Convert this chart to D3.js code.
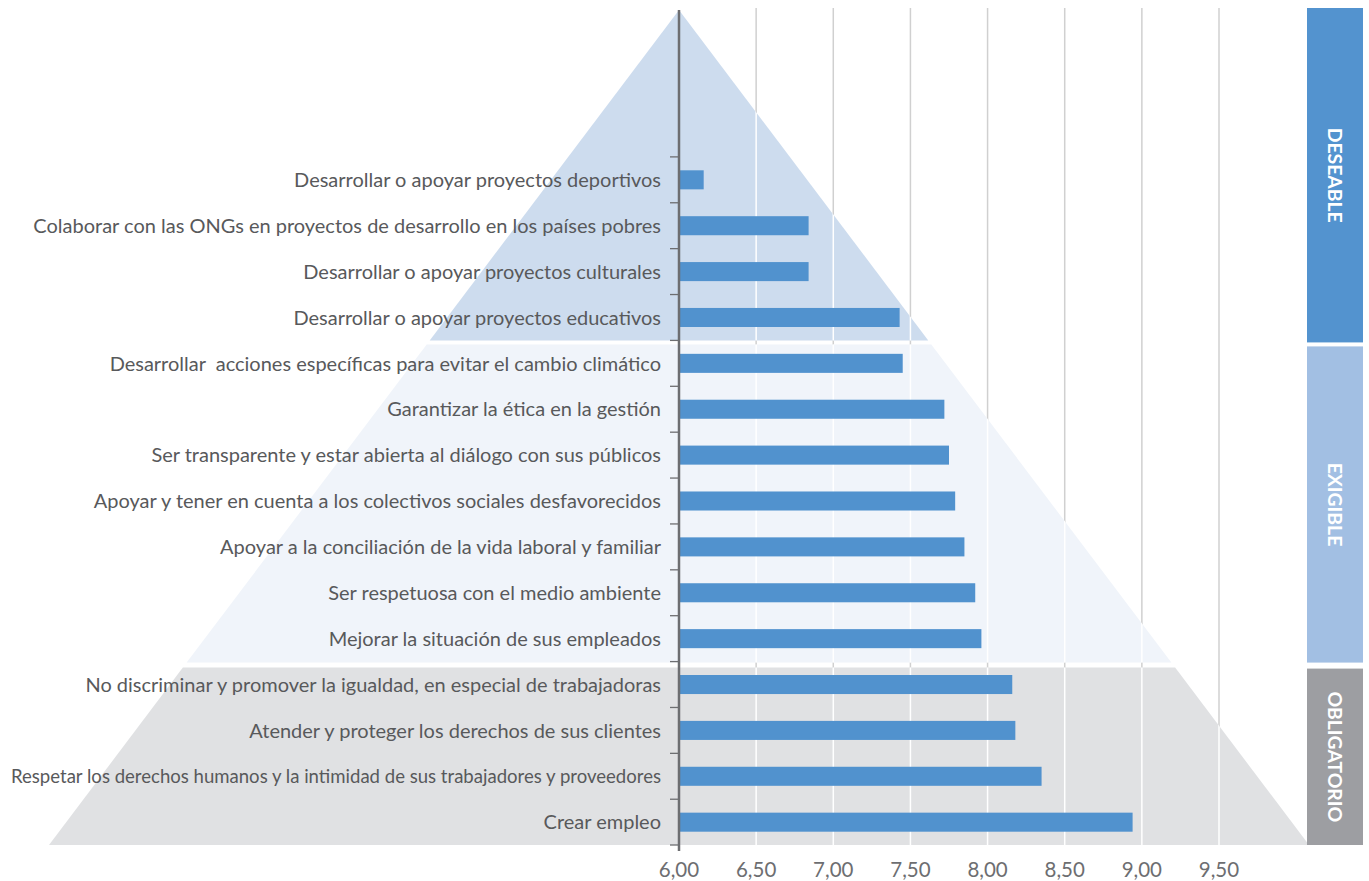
<!DOCTYPE html>
<html><head><meta charset="utf-8">
<script src="https://cdn.jsdelivr.net/npm/d3@7"></script>
<style>
body{margin:0;background:#fff;}
svg{display:block;font-family:Lato,"Open Sans",sans-serif;}
</style></head>
<body><svg id="c" width="1369" height="881"></svg>
<script>
const categories = [
 "Desarrollar o apoyar proyectos deportivos",
 "Colaborar con las ONGs en proyectos de desarrollo en los países pobres",
 "Desarrollar o apoyar proyectos culturales",
 "Desarrollar o apoyar proyectos educativos",
 "Desarrollar  acciones específicas para evitar el cambio climático",
 "Garantizar la ética en la gestión",
 "Ser transparente y estar abierta al diálogo con sus públicos",
 "Apoyar y tener en cuenta a los colectivos sociales desfavorecidos",
 "Apoyar a la conciliación de la vida laboral y familiar",
 "Ser respetuosa con el medio ambiente",
 "Mejorar la situación de sus empleados",
 "No discriminar y promover la igualdad, en especial de trabajadoras",
 "Atender y proteger los derechos de sus clientes",
 "Respetar los derechos humanos y la intimidad de sus trabajadores y proveedores",
 "Crear empleo"
];
const values = [6.16, 6.84, 6.84, 7.43, 7.45, 7.72, 7.75, 7.79, 7.85, 7.92, 7.96, 8.16, 8.18, 8.35, 8.94];
const xTicks = [6.0, 6.5, 7.0, 7.5, 8.0, 8.5, 9.0, 9.5];
const levels = ["DESEABLE", "EXIGIBLE", "OBLIGATORIO"];

const svg = d3.select("#c");
const x = d3.scaleLinear().domain([6, 9.5]).range([679, 1219]);
const y = d3.scaleBand().domain(categories).range([157, 845]).paddingInner(0.585).paddingOuter(0.29);
const gTop = 8, gBottom = 845, apexY = 10;
const apexX = x(6), baseL = 49, baseR = 2 * x(6) - 49;

// gray gridlines
svg.append("g").selectAll("line").data(xTicks.slice(1)).join("line")
  .attr("x1", d => x(d)).attr("x2", d => x(d)).attr("y1", gTop).attr("y2", gBottom)
  .attr("stroke", "#d0d0d0").attr("stroke-width", 1.5);

// pyramid bands
const step = y.step();
const bnd = i => y(categories[i]) - (step - y.bandwidth()) / 2;
const edgeL = yy => apexX - (apexX - baseL) * (yy - apexY) / (gBottom - apexY);
const edgeR = yy => apexX + (baseR - apexX) * (yy - apexY) / (gBottom - apexY);
const bands = [
  {y0: apexY, y1: bnd(4), fill: "#cddcee"},
  {y0: bnd(4) + 4, y1: bnd(11) + 1, fill: "#f0f4fa"},
  {y0: bnd(11) + 6, y1: gBottom, fill: "#e0e1e3"}
];
const poly = b => [[edgeL(b.y0), b.y0], [edgeR(b.y0), b.y0], [edgeR(b.y1), b.y1], [edgeL(b.y1), b.y1]];
svg.append("defs").append("clipPath").attr("id", "tri")
  .selectAll("polygon").data(bands).join("polygon").attr("points", b => poly(b).join(" "));
svg.append("g").selectAll("polygon").data(bands).join("polygon")
  .attr("points", b => poly(b).join(" ")).attr("fill", b => b.fill);

// white gridlines inside pyramid
svg.append("g").attr("clip-path", "url(#tri)").selectAll("line").data(xTicks.slice(1)).join("line")
  .attr("x1", d => x(d)).attr("x2", d => x(d)).attr("y1", gTop).attr("y2", gBottom)
  .attr("stroke", "#ffffff").attr("stroke-width", 1.5);

// bars
svg.append("g").selectAll("rect").data(values).join("rect")
  .attr("x", x(6)).attr("y", (d, i) => y(categories[i]))
  .attr("width", d => x(d) - x(6)).attr("height", y.bandwidth())
  .attr("fill", "#5192ce");

// y axis line and ticks
svg.append("line").attr("x1", x(6)).attr("x2", x(6)).attr("y1", apexY).attr("y2", gBottom + 6)
  .attr("stroke", "#6d6e71").attr("stroke-width", 2.5);
const tickYs = categories.map((c, i) => bnd(i)).concat([gBottom]);
svg.append("g").selectAll("line").data(tickYs).join("line")
  .attr("x1", x(6) - 9).attr("x2", x(6)).attr("y1", d => d).attr("y2", d => d)
  .attr("stroke", "#6d6e71").attr("stroke-width", 1.3);

// category labels (font sized so the longest-but-one label fits the reference width)
const labels = svg.append("g").selectAll("text").data(categories).join("text")
  .attr("x", x(6) - 18).attr("y", d => y(d) + y.bandwidth() / 2)
  .attr("dy", "0.36em").attr("text-anchor", "end")
  .attr("font-size", 20).attr("fill", "#58595b")
  .style("white-space", "pre")
  .text(d => d);
const refW = labels.filter((d, i) => i === 1).node().getComputedTextLength();
const fs = 20 * 628 / refW;
labels.attr("font-size", fs);
const maxW = x(6) - 18 - 11;
labels.each(function () {
  const w = this.getComputedTextLength();
  if (w > maxW) d3.select(this).attr("textLength", maxW).attr("lengthAdjust", "spacingAndGlyphs");
});

// x tick labels
const fmt = d => d.toFixed(2).replace(".", ",");
svg.append("g").selectAll("text").data(xTicks).join("text")
  .attr("x", d => x(d)).attr("y", 877).attr("text-anchor", "middle")
  .attr("font-size", 20.5).attr("fill", "#6d6e71").text(fmt);

// level side boxes
const boxes = [
  {y0: gTop, y1: bnd(4) + 2, fill: "#5393cf"},
  {y0: bnd(4) + 6, y1: bnd(11) + 1, fill: "#a2bfe3"},
  {y0: bnd(11) + 7, y1: gBottom, fill: "#9d9ea2"}
];
const bx0 = 1307, bx1 = 1363;
const gb = svg.append("g").selectAll("g").data(boxes).join("g");
gb.append("rect").attr("x", bx0).attr("y", b => b.y0).attr("width", bx1 - bx0)
  .attr("height", b => b.y1 - b.y0).attr("fill", b => b.fill);
const lt = gb.append("text")
  .attr("transform", b => `translate(${(bx0 + bx1) / 2},${(b.y0 + b.y1) / 2}) rotate(90)`)
  .attr("text-anchor", "middle").attr("dy", "0.36em")
  .attr("font-size", 20).attr("font-weight", "bold").attr("fill", "#fff")
  .text((b, i) => levels[i]);
const lw = lt.filter((d, i) => i === 0).node().getComputedTextLength();
lt.attr("font-size", 20 * 95 / lw);
</script></body></html>
